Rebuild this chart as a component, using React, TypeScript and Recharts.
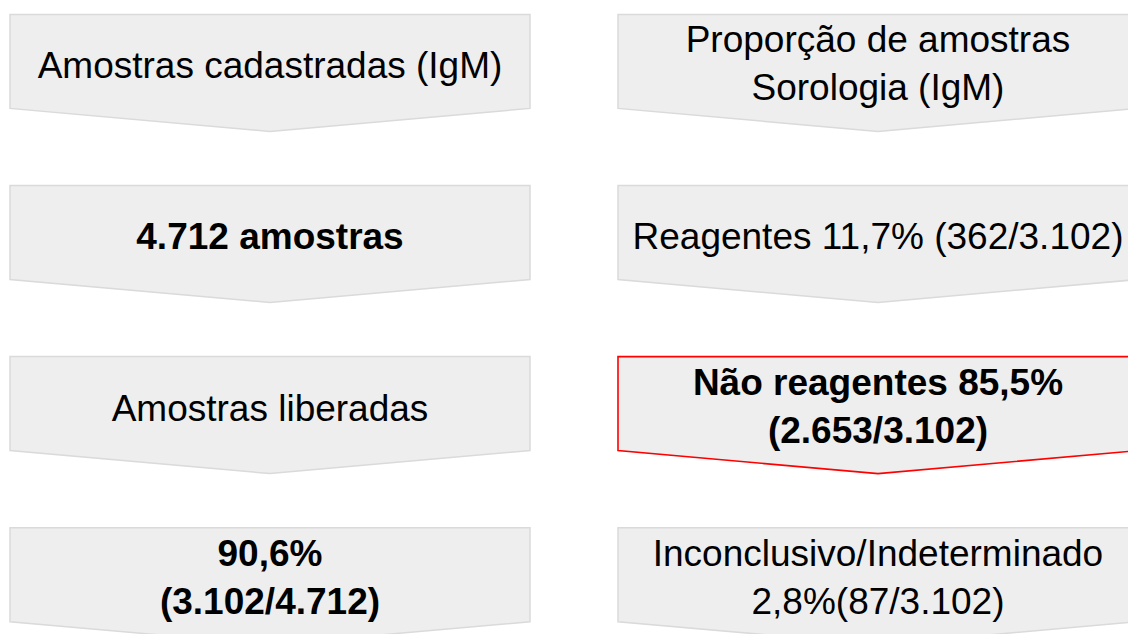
import React from "react";
import { ScatterChart, Scatter, XAxis, YAxis } from "recharts";

// Flow columns (left: samples, right: serology results)
const columns = ["Amostras", "Sorologia (IgM)"];

// Text of each step, top to bottom
const leftSteps: string[][] = [
  ["Amostras cadastradas (IgM)"],
  ["4.712 amostras"],
  ["Amostras liberadas"],
  ["90,6%", "(3.102/4.712)"],
];
const rightSteps: string[][] = [
  ["Proporção de amostras", "Sorologia (IgM)"],
  ["Reagentes 11,7% (362/3.102)"],
  ["Não reagentes 85,5%", "(2.653/3.102)"],
  ["Inconclusivo/Indeterminado", "2,8%(87/3.102)"],
];

// Which steps are emphasised (bold) and which one is highlighted
const leftEmphasis = [false, true, false, true];
const rightEmphasis = [false, false, true, false];
const highlighted = { col: 1, row: 2 };

const stepsByColumn = [leftSteps, rightSteps];
const emphasisByColumn = [leftEmphasis, rightEmphasis];

const data = columns.flatMap((name, col) =>
  stepsByColumn[col].map((lines, row) => ({
    column: name,
    col,
    row,
    lines,
    bold: emphasisByColumn[col][row],
    highlight: highlighted.col === col && highlighted.row === row,
  }))
);

const BOX_W = 520;
const BOX_H = 94;
const TIP = 23;
const FONT = 37;
const LINE_GAP = 48;

const Chevron = (props: any) => {
  const { cx, cy, payload } = props;
  if (cx == null || cy == null) return null;
  const l = cx - BOX_W / 2;
  const r = cx + BOX_W / 2;
  const t = cy - BOX_H / 2;
  const b = cy + BOX_H / 2;
  const pts = `${l},${t} ${r},${t} ${r},${b} ${cx},${b + TIP} ${l},${b}`;
  const lines: string[] = payload.lines;
  const n = lines.length;
  const base = n === 1 ? cy + 17 : cy + 15;
  return (
    <g>
      <polygon
        points={pts}
        fill="#eeeeee"
        stroke={payload.highlight ? "#ff0000" : "#dadada"}
        strokeWidth={payload.highlight ? 1.6 : 1.5}
      />
      {lines.map((s, i) => (
        <text
          key={i}
          x={cx}
          y={base + (i - (n - 1) / 2) * LINE_GAP}
          textAnchor="middle"
          fontFamily="'Liberation Sans', Arial, sans-serif"
          fontSize={FONT}
          fontWeight={payload.bold ? 700 : 400}
          fill="#000000"
        >
          {s}
        </text>
      ))}
    </g>
  );
};

export default function App() {
  return (
    <div style={{ position: "absolute", left: 0, top: 0, background: "#ffffff" }}>
      <ScatterChart width={1128} height={634} margin={{ top: 0, right: 0, bottom: 0, left: 0 }}>
        <XAxis type="number" dataKey="col" domain={[-0.4441, 1.4112]} hide />
        <YAxis type="number" dataKey="row" domain={[-0.3588, 3.3466]} reversed hide />
        <Scatter data={data} shape={<Chevron />} isAnimationActive={false} />
      </ScatterChart>
    </div>
  );
}
